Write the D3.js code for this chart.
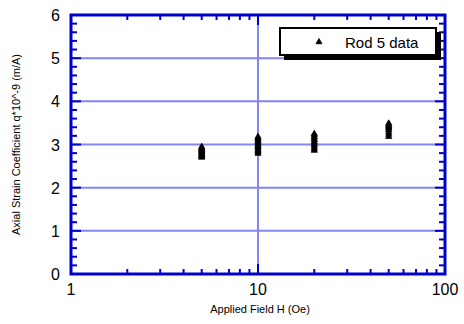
<!DOCTYPE html>
<html><head><meta charset="utf-8">
<script src="https://cdn.jsdelivr.net/npm/d3@7"></script>
<style>body{margin:0;background:#fff}svg{display:block}text{font-family:"Liberation Sans",Arial,sans-serif}</style>
</head><body>
<svg id="c" width="464" height="324"></svg>
<script>
const xTicks = [1, 10, 100];
const yTicks = [0, 1, 2, 3, 4, 5, 6];
const fields = [5, 10, 20, 50];
const series5  = [2.70, 2.72, 2.74, 2.76, 2.78, 2.80, 2.82, 2.84, 2.86, 2.88, 2.90, 2.92, 2.95];
const series10 = [2.79, 2.82, 2.85, 2.88, 2.91, 2.94, 2.97, 3.00, 3.03, 3.06, 3.09, 3.12, 3.15, 3.18];
const series20 = [2.86, 2.90, 2.94, 2.98, 3.02, 3.06, 3.10, 3.14, 3.18, 3.22, 3.25];
const series50 = [3.18, 3.23, 3.28, 3.33, 3.37, 3.40, 3.43, 3.46, 3.49];
const seriesByField = [series5, series10, series20, series50];
const legendLabel = "Rod 5 data";
const xTitle = "Applied Field H (Oe)";
const yTitle = "Axial Strain Coefficient q*10^-9 (m/A)";

const svg = d3.select("#c");
const L = 71, R = 445, T = 15, B = 274;
const x = d3.scaleLog().domain([1, 100]).range([L, R]);
const y = d3.scaleLinear().domain([0, 6]).range([B, T]);
const axisC = "#0000cc", gridC = "#8585ee";

// gridlines
svg.append("g").selectAll("line").data(yTicks.filter(d => d > 0 && d < 6)).join("line")
  .attr("x1", L).attr("x2", R).attr("y1", d => y(d)).attr("y2", d => y(d))
  .attr("stroke", gridC).attr("stroke-width", 2);
svg.append("g").selectAll("line").data(xTicks.filter(d => d > 1 && d < 100)).join("line")
  .attr("y1", T).attr("y2", B).attr("x1", d => x(d)).attr("x2", d => x(d))
  .attr("stroke", gridC).attr("stroke-width", 2);

// ticks
const tk = svg.append("g").attr("stroke", axisC).attr("stroke-width", 2);
const yMinor = d3.range(0, 6.0001, 0.2).map(v => +v.toFixed(1));
yMinor.forEach(v => {
  const major = Math.abs(v - Math.round(v)) < 1e-6;
  const len = major ? 10 : 6;
  tk.append("line").attr("x1", L).attr("x2", L + len).attr("y1", y(v)).attr("y2", y(v));
  tk.append("line").attr("x1", R).attr("x2", R - len).attr("y1", y(v)).attr("y2", y(v));
});
const xMinor = [];
[1, 10].forEach(dec => { for (let k = 1; k <= 10; k++) xMinor.push(dec * k); });
xMinor.forEach(v => {
  const major = xTicks.includes(v);
  const len = major ? 10 : 5;
  tk.append("line").attr("y1", B).attr("y2", B - len).attr("x1", x(v)).attr("x2", x(v));
  tk.append("line").attr("y1", T).attr("y2", T + len).attr("x1", x(v)).attr("x2", x(v));
});

// frame
svg.append("rect").attr("x", L).attr("y", T).attr("width", R - L).attr("height", B - T)
  .attr("fill", "none").attr("stroke", axisC).attr("stroke-width", 3);

// tick labels
svg.append("g").selectAll("text").data(yTicks).join("text")
  .attr("x", L - 11).attr("y", d => y(d) + 6).attr("text-anchor", "end")
  .attr("font-size", 16).text(d => d);
svg.append("g").selectAll("text").data(xTicks).join("text")
  .attr("x", d => x(d)).attr("y", B + 21).attr("text-anchor", "middle")
  .attr("font-size", 16).text(d => d);

// titles
svg.append("text").attr("x", (L + R) / 2 + 2).attr("y", 313).attr("text-anchor", "middle")
  .attr("font-size", 11).text(xTitle);
svg.append("text").attr("transform", `translate(20,${(T + B) / 2}) rotate(-90)`)
  .attr("text-anchor", "middle").attr("font-size", 11).text(yTitle);

// data
const tri = d3.symbol().type(d3.symbolTriangle).size(16);
const pts = [];
fields.forEach((f, i) => seriesByField[i].forEach(v => pts.push([f, v])));
svg.append("g").selectAll("path").data(pts).join("path")
  .attr("d", tri).attr("transform", d => `translate(${x(d[0])},${y(d[1])})`)
  .attr("fill", "#000").attr("stroke", "#000").attr("stroke-width", 0.8);

// legend
const lg = svg.append("g");
lg.append("rect").attr("x", 284).attr("y", 32).attr("width", 157).attr("height", 28).attr("fill", "#000");
lg.append("rect").attr("x", 280).attr("y", 28).attr("width", 156).attr("height", 27)
  .attr("fill", "#fff").attr("stroke", "#000").attr("stroke-width", 2);
lg.append("path").attr("d", d3.symbol().type(d3.symbolTriangle).size(16))
  .attr("transform", "translate(319,42)").attr("fill", "#000").attr("stroke", "#000").attr("stroke-width", 0.8);
lg.append("text").attr("x", 345).attr("y", 47.5).attr("font-size", 15).text(legendLabel);
</script>
</body></html>
